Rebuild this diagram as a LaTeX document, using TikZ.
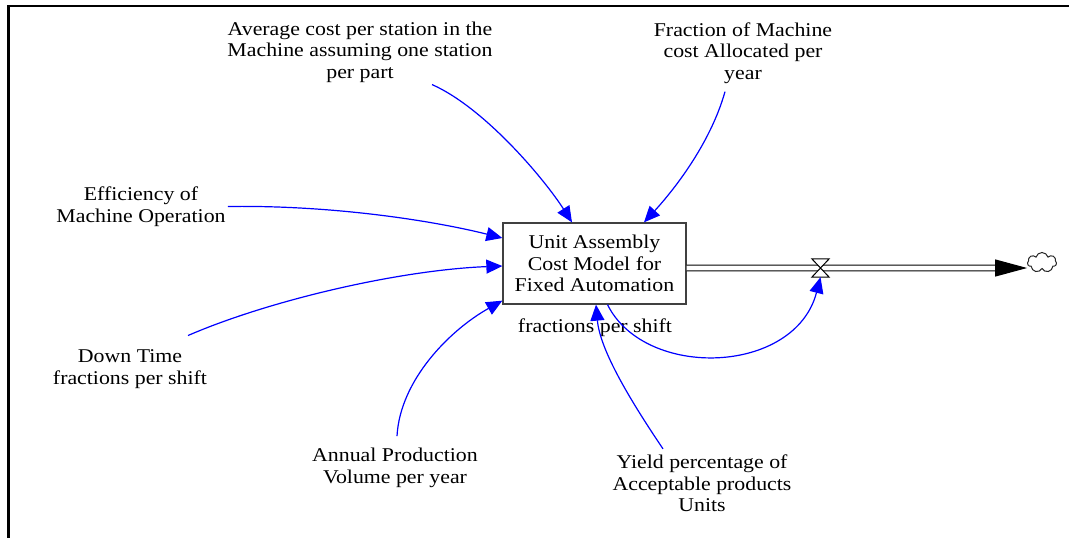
\documentclass[tikz,border=0pt]{standalone}
\usepackage{fontspec}
\setmainfont{Liberation Serif}[FakeStretch=1.12]
\usetikzlibrary{arrows.meta,shapes.symbols}
\begin{document}
\begin{tikzpicture}[x=1pt,y=-1pt,
  lbl/.style={align=center, font=\fontsize{19.5}{21.5}\selectfont, inner sep=2pt},
  conn/.style={draw=blue, line width=1.2pt, -{Triangle[length=16pt,width=14pt]}},
  stockbox/.style={draw=black!75, line width=1.3pt, minimum width=183pt, minimum height=81pt,
    align=center, font=\fontsize{19.5}{21.5}\selectfont, fill=white, inner sep=0pt},
  pipe/.style={draw=black, double=white, double distance=4.6pt, line width=1.1pt,
    -{Triangle[length=32pt,width=17pt]}},
  valveshape/.style={minimum width=17pt, minimum height=18pt, inner sep=0pt},
  sink/.style={cloud, draw=black!85, line width=1pt, cloud puffs=7, aspect=1.5,
    minimum width=29pt, minimum height=20pt, inner sep=0pt, fill=white}
]
\useasboundingbox (0,0) rectangle (1069,538);
% frame
\draw[line width=2.2pt] (8.5,538) -- (8.5,6) -- (1069,6);

% nodes
\node[stockbox] (box) at (594.5,263.5) {Unit Assembly\\Cost Model for\\Fixed Automation};
\node[lbl] (avg) at (360,52) {Average cost per station in the\\Machine assuming one station\\per part};
\node[lbl] (frac) at (743,53) {Fraction of Machine\\cost Allocated per\\year};
\node[lbl] (eff) at (141,206.5) {Efficiency of\\Machine Operation};
\node[lbl] (down) at (130,369) {Down Time\\fractions per shift};
\node[lbl] (ann) at (395,468) {Annual Production\\Volume per year};
\node[lbl] (yield) at (702,483.5) {Yield percentage of\\Acceptable products\\Units};
\node[lbl] (fps) at (595,328) {fractions per shift};
\node[valveshape] (valve) at (820.5,268) {};
\node[sink] (sink) at (1042,262.5) {};

% flow pipe
\draw[pipe] ([yshift=-4.5pt]box.east) -- ([yshift=-5.5pt]sink.west);
\draw[line width=1pt, fill=white] (valve.north west) -- (valve.north east) -- (valve.south west) -- (valve.south east) -- cycle;

% connectors
\draw[conn] ([xshift=72pt]avg.south) .. controls (485,108) and (545,180) .. ([xshift=-22.5pt]box.north);
\draw[conn] ([xshift=-18pt,yshift=-6pt]frac.south) .. controls (710,145) and (672,192) .. ([xshift=49.5pt]box.north);
\draw[conn] (eff.east) .. controls (330,205) and (430,220) .. ([yshift=25.5pt]box.west);
\draw[conn] ([xshift=58pt,yshift=12pt]down.north) .. controls (270,300) and (400,270) .. ([yshift=-2.5pt]box.west);
\draw[conn] ([xshift=2pt,yshift=10pt]ann.north) .. controls (400,380) and (450,330) .. ([yshift=4pt]box.south west);
\draw[conn] ([xshift=-39pt,yshift=4pt]yield.north) .. controls (630,400) and (600,350) .. ([xshift=1.5pt]box.south);
\draw[conn] ([xshift=13pt]box.south) .. controls (645,380) and (795,375) .. (valve.south);
\end{tikzpicture}
\end{document}
